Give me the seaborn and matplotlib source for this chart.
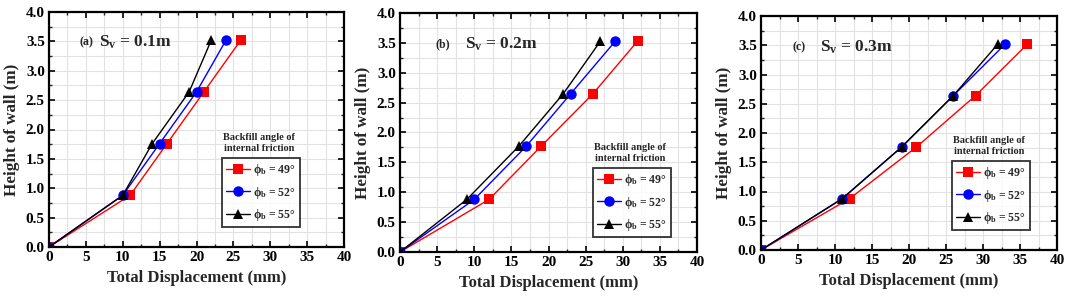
import numpy as np
import pandas as pd
import matplotlib
matplotlib.use("Agg")
import matplotlib.pyplot as plt
import seaborn as sns
from matplotlib.ticker import MultipleLocator, FormatStrFormatter

# ---- data ----
heights_a = [0.0, 0.88, 1.76, 2.64, 3.52]
heights_b = [0.0, 0.88, 1.77, 2.65, 3.53]
heights_c = [0.0, 0.88, 1.76, 2.64, 3.52]

disp_a_49 = [0, 11, 16, 21, 26]
disp_a_52 = [0, 10, 15, 20, 24]
disp_a_55 = [0, 10, 14, 19, 22]

disp_b_49 = [0, 12, 19, 26, 32]
disp_b_52 = [0, 10, 17, 23, 29]
disp_b_55 = [0, 9, 16, 22, 27]

disp_c_49 = [0, 12, 21, 29, 36]
disp_c_52 = [0, 11, 19, 26, 33]
disp_c_55 = [0, 11, 19, 26, 32]

series_labels = [r"$\mathbf{\phi_b}$ = 49°", r"$\mathbf{\phi_b}$ = 52°", r"$\mathbf{\phi_b}$ = 55°"]
panel_tags = ["(a)", "(b)", "(c)"]
panel_titles = [r"S$_\mathbf{v}$ = 0.1m", r"S$_\mathbf{v}$ = 0.2m", r"S$_\mathbf{v}$ = 0.3m"]
legend_title = "Backfill angle of\ninternal friction"
xlabel = "Total Displacement (mm)"
ylabel = "Height of wall (m)"

sns.set_theme(style="white")
plt.rcParams["font.family"] = ["Liberation Serif", "DejaVu Serif"]
plt.rcParams["font.weight"] = "bold"
plt.rcParams["mathtext.fontset"] = "custom"
plt.rcParams["mathtext.rm"] = "Liberation Serif:bold"
plt.rcParams["mathtext.it"] = "Liberation Serif:bold"
plt.rcParams["mathtext.bf"] = "Liberation Serif:bold"

W, H = 1065, 302
fig = plt.figure(figsize=(W / 100, H / 100), dpi=100)

# axes pixel boxes: left, right, top, bottom
boxes = [(49, 344, 12, 247), (400, 697, 13, 252), (761, 1057, 16, 250)]
leg_boxes = [(222, 158), (593, 168), (952, 161)]  # upper-left px of legend box
tag_pos = [(0.105, 0.17, 0.87), (0.118, 0.219, 0.87), (0.105, 0.2, 0.868)]

panels = [
    (heights_a, [disp_a_49, disp_a_52, disp_a_55]),
    (heights_b, [disp_b_49, disp_b_52, disp_b_55]),
    (heights_c, [disp_c_49, disp_c_52, disp_c_55]),
]

palette = {series_labels[0]: "#ff0000", series_labels[1]: "#0000ff", series_labels[2]: "#000000"}
markers = {series_labels[0]: "s", series_labels[1]: "o", series_labels[2]: "^"}

for i, ((hts, disps), (l, r, t, b)) in enumerate(zip(panels, boxes)):
    ax = fig.add_axes([l / W, (H - b) / H, (r - l) / W, (b - t) / H])
    rows = []
    for lab, d in zip(series_labels, disps):
        for x, y in zip(d, hts):
            rows.append({"disp": x, "height": y, "series": lab})
    df = pd.DataFrame(rows)
    sns.lineplot(data=df, x="disp", y="height", hue="series", style="series",
                 palette=palette, markers=markers, dashes=False, sort=False,
                 markersize=7.5, linewidth=1.0, markeredgewidth=0, ax=ax,
                 hue_order=series_labels, style_order=series_labels)
    ax.set_xlim(0, 40)
    ax.set_ylim(0, 4.0)
    ax.xaxis.set_major_locator(MultipleLocator(5))
    ax.xaxis.set_minor_locator(MultipleLocator(2.5))
    ax.yaxis.set_major_locator(MultipleLocator(0.5))
    ax.yaxis.set_minor_locator(MultipleLocator(0.25))
    ax.yaxis.set_major_formatter(FormatStrFormatter("%.1f"))
    ax.grid(True, which="both", color="#e2e2e2", linewidth=0.8)
    ax.set_axisbelow(True)
    for s in ax.spines.values():
        s.set_color("black")
        s.set_linewidth(1.6)
    ax.tick_params(which="major", direction="in", length=4, width=1.2, labelsize=11,
                   top=True, right=True, bottom=True, left=True, colors="black", pad=3)
    ax.tick_params(which="minor", direction="in", length=2, width=1.0,
                   top=True, right=True, bottom=True, left=True)
    for lab in ax.get_xticklabels() + ax.get_yticklabels():
        lab.set_fontweight("bold")
    ax.set_xlabel(xlabel, fontsize=12, fontweight="bold", labelpad=4)
    ax.set_ylabel(ylabel, fontsize=12.3, fontweight="bold", labelpad=4)

    tx, sx, ty = tag_pos[i]
    ax.text(tx, ty, panel_tags[i], transform=ax.transAxes, fontsize=8.5,
            fontweight="bold", va="center", ha="left")
    ax.text(sx, ty, panel_titles[i], transform=ax.transAxes, fontsize=12.5,
            fontweight="bold", va="center", ha="left")

    lx, ly = leg_boxes[i]
    handles, labels = ax.get_legend_handles_labels()
    if ax.get_legend():
        ax.get_legend().remove()
    leg = ax.legend(handles, labels, loc="upper left",
                    bbox_to_anchor=(lx / W, (H - ly) / H), bbox_transform=fig.transFigure,
                    frameon=True, fancybox=False, edgecolor="black", fontsize=8.5,
                    handlelength=2.0, handletextpad=0.3, borderpad=0.35,
                    labelspacing=0.55, borderaxespad=0)
    leg.get_frame().set_linewidth(1.3)
    for txt in leg.get_texts():
        txt.set_fontweight("bold")
    ax.text((lx + 37) / W, (H - ly + 15) / H, legend_title, transform=fig.transFigure,
            fontsize=7.5, fontweight="bold", ha="center", va="center",
            multialignment="center", linespacing=1.4)

fig.savefig("out.png", dpi=100)
